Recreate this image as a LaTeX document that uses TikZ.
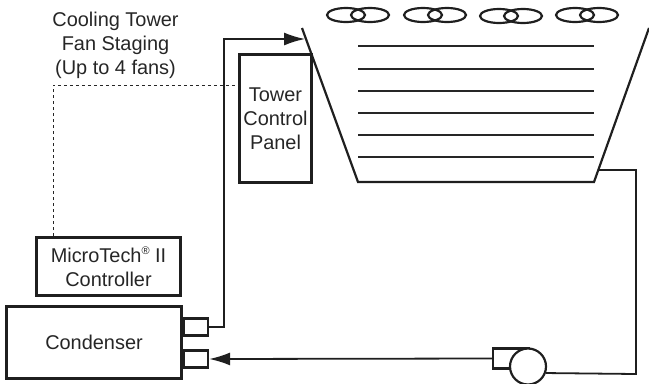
\documentclass[tikz,border=0pt]{standalone}
\usepackage{fontspec}
\setmainfont{Liberation Sans}
\usetikzlibrary{arrows.meta}
\tikzset{
  ink/.style={draw=black!88,line width=2.2pt,line join=miter},
  thin ink/.style={draw=black!85,line width=1.2pt},
  labelbox/.style={draw=black!88,line width=2.8pt,inner sep=0pt,align=center,font=\fontsize{20}{24}\selectfont,text=black!85},
  pipe/.style={draw=black!88,line width=1.8pt},
  tip/.style={-{Latex[length=21bp,width=13bp]}},
  caption/.style={inner sep=0pt,align=center,font=\fontsize{20}{24}\selectfont,text=black!85}
}
\newcommand{\fan}[2]{%
  \draw[ink] (#1-12,#2) ellipse [x radius=19,y radius=7];
  \draw[ink] (#1+12,#2) ellipse [x radius=19,y radius=7];
}
\begin{document}
\begin{tikzpicture}[x=1bp,y=-1bp]
\useasboundingbox (0,0) rectangle (649,383);
\clip (0,0) rectangle (649,383);
% tower
\coordinate (tl) at (302,28);
\coordinate (bl) at (358,182);
\coordinate (br) at (594,182);
\coordinate (tr) at (649,28);
\draw[ink] (tl) -- (bl) -- (br) -- (tr);
\foreach \y in {46,69,91,113,135,157} \draw[thin ink] (358,\y) -- (594,\y);
\fan{358}{15}\fan{435}{15}\fan{511}{16}\fan{587}{15}
% boxes
\node[labelbox,minimum width=72bp,minimum height=128bp] (panel) at (275.5,118.5) {Tower\\Control\\Panel};
\node[labelbox,minimum width=144bp,minimum height=58bp] (ctrl) at (108.5,266.5) {MicroTech\raisebox{0.42em}{\fontsize{11}{11}\selectfont ®} II\\Controller};
\node[labelbox,minimum width=175bp,minimum height=72bp] (cond) at (94,342.5) {Condenser};
\node[ink,anchor=west,minimum width=24bp,minimum height=17bp,inner sep=0pt] (s1) at (cond.east |- 0,327) {};
\node[ink,anchor=west,minimum width=24bp,minimum height=17bp,inner sep=0pt] (s2) at (cond.east |- 0,359) {};
% pump
\node[ink,anchor=west,minimum width=36bp,minimum height=20bp,inner sep=0pt] (pbox) at (492,358.5) {};
\node[ink,circle,fill=white,minimum size=36bp,inner sep=0pt] (pump) at (528,366.5) {};
% pipes
\coordinate (r1) at (224,327);
\coordinate (r2) at (224,39);
\coordinate (in) at (305,39);
\draw[pipe,tip] (s1.east) -- (r1) -- (r2) -- (in);
\draw[pipe,tip] (pbox.west) -- (s2.east);
\coordinate (c1) at (636,374);
\coordinate (c2) at (636,170);
\coordinate (c3) at (598,170);
\draw[pipe] (pump.-20) -- (c1) -- (c2) -- (c3);
% dotted
\coordinate (d1) at (53,85);
\draw[draw=black!85,line width=1pt,dash pattern=on 3bp off 3bp] (ctrl.north -| d1) -- (d1) -- (panel.west |- d1);
\node[caption] (cap) at (115.5,45) {Cooling Tower\\Fan Staging\\(Up to 4 fans)};
\end{tikzpicture}
\end{document}
